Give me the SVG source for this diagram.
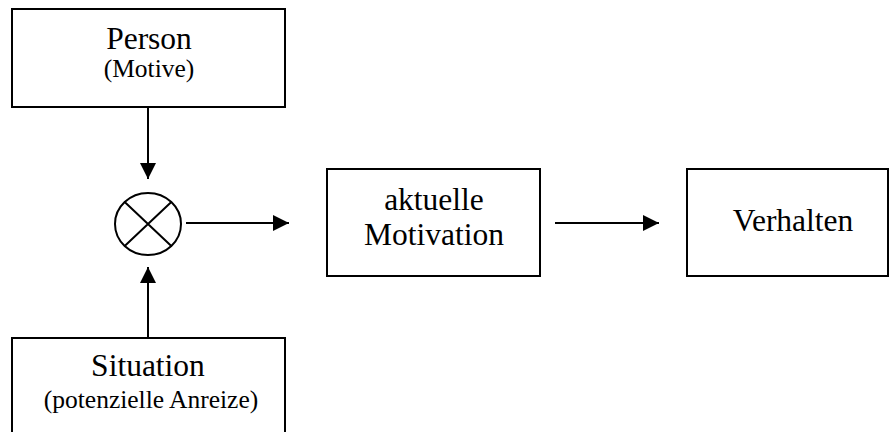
<svg xmlns="http://www.w3.org/2000/svg" width="890" height="432" viewBox="0 0 890 432">
<style>
.box{fill:#fff;stroke:#000;stroke-width:2}
.big{font-family:"Liberation Serif","Times New Roman",serif;font-size:31.5px;fill:#000;text-anchor:middle}
.small{font-family:"Liberation Serif","Times New Roman",serif;font-size:25.5px;fill:#000;text-anchor:middle}
.ln{stroke:#000;stroke-width:2;fill:none}
</style>
<defs>
<marker id="ah" viewBox="0 0 16 16" refX="16" refY="8" markerWidth="16" markerHeight="16" markerUnits="userSpaceOnUse" orient="auto">
<path d="M0,0 L16,8 L0,16 Z" fill="#000"/>
</marker>
</defs>
<rect width="890" height="432" fill="#fff"/>
<g id="person">
<rect class="box" x="12" y="9" width="273" height="98"/>
<text class="big" x="149" y="49">Person</text>
<text class="small" x="149" y="77">(Motive)</text>
</g>
<g id="multiplier">
<ellipse cx="148" cy="224" rx="33" ry="31" fill="#fff" stroke="#000" stroke-width="2"/>
<path class="ln" d="M124.7,202 L171.3,246 M171.3,202 L124.7,246"/>
</g>
<g id="situation">
<rect class="box" x="12" y="338" width="273" height="110"/>
<text class="big" x="148" y="376">Situation</text>
<text class="small" x="151" y="408">(potenzielle Anreize)</text>
</g>
<g id="motivation">
<rect class="box" x="327" y="169" width="213" height="107"/>
<text class="big" x="434" y="210">aktuelle</text>
<text class="big" x="434" y="245">Motivation</text>
</g>
<g id="verhalten">
<rect class="box" x="687" y="169" width="201" height="107"/>
<text class="big" x="793" y="231">Verhalten</text>
</g>
<g id="connectors">
<line class="ln" x1="148" y1="107" x2="148" y2="179" marker-end="url(#ah)"/>
<line class="ln" x1="148" y1="338" x2="148" y2="267" marker-end="url(#ah)"/>
<line class="ln" x1="186" y1="223" x2="289" y2="223" marker-end="url(#ah)"/>
<line class="ln" x1="555" y1="223" x2="659" y2="223" marker-end="url(#ah)"/>
</g>
</svg>
